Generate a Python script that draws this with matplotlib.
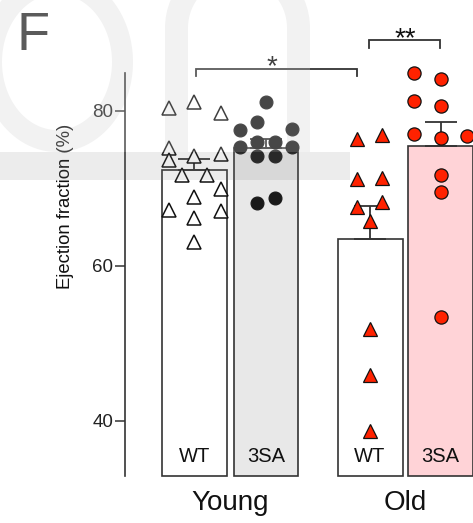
import numpy as np
import matplotlib
matplotlib.use('Agg')
import matplotlib.pyplot as plt
from matplotlib.patches import Rectangle, Wedge, PathPatch
from matplotlib.path import Path
import matplotlib.transforms as mtransforms

plt.rcParams['font.family'] = ['Liberation Sans', 'DejaVu Sans']

# ---------------- data ----------------
groups = ['Young', 'Old']
genotypes = ['WT', '3SA', 'WT', '3SA']
bar_means = [72.4, 75.2, 63.5, 75.5]
bar_sems = [1.4, 1.2, 4.2, 3.1]

young_wt = [80.4, 81.2, 79.7, 75.2, 73.7, 74.2, 74.5, 71.7, 71.7, 69.9, 67.2, 68.9, 67.1, 66.2, 63.1]
young_3sa = [81.2, 78.6, 77.5, 77.7, 76.0, 76.0, 75.4, 75.4, 74.2, 74.2, 68.1, 68.8]
old_wt = [76.4, 76.9, 71.2, 71.4, 67.6, 68.3, 65.8, 51.9, 45.9, 38.7]
old_3sa = [84.9, 84.1, 81.3, 80.6, 77.0, 76.5, 76.8, 71.7, 69.5, 53.4]

yticks = [40, 60, 80]
ylabel = 'Ejection fraction (%)'
sig_labels = ['*', '**']
panel_label = 'F'

# ---------------- layout ----------------
positions = [0, 1, 2.455, 3.441]
bar_w = 0.909
young_wt_dx = [-0.36, 0, 0.37, -0.36, -0.36, 0, 0.37, -0.18, 0.18, 0.37, -0.36, 0, 0.37, 0, 0]
young_3sa_dx = [0.0, -0.12, -0.36, 0.36, -0.12, 0.12, -0.36, 0.36, -0.12, 0.12, -0.12, 0.12]
old_wt_dx = [-0.18, 0.17, -0.18, 0.17, -0.18, 0.17, 0, 0, 0, 0]
old_3sa_dx = [-0.37, 0, -0.37, 0, -0.37, 0, 0.37, 0, 0, 0]

W, H = 473, 523
fig = plt.figure(figsize=(W / 100, H / 100), dpi=100)
ax = fig.add_axes([125 / W, 47 / H, 348 / W, 403 / H])
ymin, ymax = 32.9, 84.9
ax.set_ylim(ymin, ymax)
ax.set_xlim(-0.972, 3.895)

ink = '#333333'
bar_colors = ['white', '#e8e8e8', 'white', '#ffd3d7']
ax.bar(positions, [m - ymin for m in bar_means], bottom=ymin, width=bar_w,
       color=bar_colors, edgecolor=ink, linewidth=1.2, zorder=2, clip_on=False)
ax.errorbar(positions, bar_means, yerr=[[0] * 4, bar_sems], fmt='none',
            ecolor=ink, elinewidth=1.3, capsize=11.5, capthick=1.3, zorder=3)

def pts(i, vals, dx, **kw):
    xs = [positions[i] + d for d in dx]
    ax.plot(xs, vals, ls='none', zorder=4, clip_on=False, **kw)

pts(0, young_wt, young_wt_dx, marker='^', ms=9.5, mfc='white', mec='#111111', mew=1.1)
pts(1, young_3sa, young_3sa_dx, marker='o', ms=9.3, mfc='#1a1a1a', mec='#1a1a1a', mew=0.8)
pts(2, old_wt, old_wt_dx, marker='^', ms=9.5, mfc='#ff2200', mec='#111111', mew=0.9)
pts(3, old_3sa, old_3sa_dx, marker='o', ms=9.5, mfc='#ff2200', mec='#111111', mew=0.9)

# axes styling
for s in ['top', 'right', 'bottom']:
    ax.spines[s].set_visible(False)
ax.spines['left'].set_color(ink)
ax.spines['left'].set_linewidth(1.2)
ax.set_xticks([])
ax.set_yticks(yticks)
ax.tick_params(axis='y', direction='out', length=7, width=1.1, color=ink,
               labelsize=13.5, pad=1.5, labelcolor='#222222')
ax.set_ylabel(ylabel, fontsize=13.3, color='#111111')
ax.yaxis.set_label_coords(-0.147, 0.67)

# genotype labels inside bars
tr = mtransforms.blended_transform_factory(ax.transData, ax.transAxes)
for p, g in zip(positions, genotypes):
    ax.text(p, 0.035, g, transform=tr, ha='center', va='baseline', fontsize=14.5, color='#111111')
# group labels
ax.text((positions[0] + positions[1]) / 2, -0.085, groups[0], transform=tr,
        ha='center', va='baseline', fontsize=20, color='#111111')
ax.text((positions[2] + positions[3]) / 2, -0.085, groups[1], transform=tr,
        ha='center', va='baseline', fontsize=20, color='#111111')

# significance brackets
def bracket(x1, x2, ylo, yhi, label, xt, yt):
    ax.plot([x1, x1, x2, x2], [ylo, yhi, yhi, ylo], color=ink, lw=1.3,
            clip_on=False, zorder=5, solid_joinstyle='miter')
    ax.text(xt, yt, label, ha='center', va='baseline', fontsize=20, color='#111111')

bracket(0.021, 2.273, 84.5, 85.42, sig_labels[0], 1.084, 84.7)
bracket(2.441, 3.434, 88.13, 89.16, sig_labels[1], 2.944, 88.32)

fig.text(16 / W, 1 - 11 / H, panel_label, ha='left', va='top', fontsize=39, color='#333333')

# ---------------- faint watermark overlay ----------------
ov = fig.add_axes([0, 0, 1, 1], zorder=10)
ov.set_xlim(0, W)
ov.set_ylim(H, 0)
ov.axis('off')
ov.patch.set_alpha(0)
ov.add_patch(Rectangle((0, 0), 310, 152, facecolor='white', alpha=0.2, lw=0))
ov.add_patch(Rectangle((0, 152), 350, 28, facecolor='#808080', alpha=0.15, lw=0))
clip = Rectangle((0, 0), W, 152, transform=ov.transData)
# ring "o"
t = np.linspace(0, 2 * np.pi, 200)
cx, cy = 57, 62
outer = np.c_[cx + 76 * np.cos(t), cy + 90 * np.sin(t)]
inner = np.c_[cx + 55 * np.cos(t[::-1]), cy + 68 * np.sin(t[::-1])]
verts = np.vstack([outer, inner])
codes = ([Path.MOVETO] + [Path.LINETO] * (len(t) - 1)) * 2
ring = PathPatch(Path(verts, codes), facecolor='#808080', alpha=0.1, lw=0)
ov.add_patch(ring)
ring.set_clip_path(clip)
# letter "n"
nc, ncy, ro, wdt = 237.5, 28, 72.5, 23
ov.add_patch(Rectangle((165, ncy), wdt, 152 - ncy, facecolor='#808080', alpha=0.1, lw=0))
ov.add_patch(Rectangle((310 - wdt, ncy), wdt, 152 - ncy, facecolor='#808080', alpha=0.1, lw=0))
ov.add_patch(Wedge((nc, ncy), ro, 180, 360, width=wdt, facecolor='#808080', alpha=0.1, lw=0))

fig.savefig('out.png', dpi=100)
